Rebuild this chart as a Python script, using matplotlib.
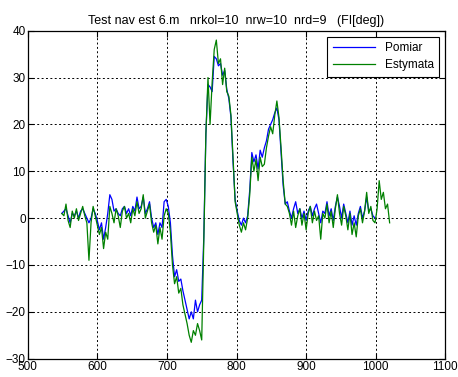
import matplotlib
matplotlib.use("Agg")
import matplotlib.pyplot as plt
import numpy as np

# sample positions (every 3 units)
x_est = np.arange(549, 1021, 3)
x_pom = x_est[x_est <= 999]

pomiar = [
    1.0, 1.5, 2.0, 0.5, -1.0, 1.0, 0.5, 1.5, 0.0, 1.5,
    2.0, 1.0, 0.0, -1.0, 0.0, 2.0, 1.0, -0.5, -2.5, -1.0,
    -4.5, -2.0, 1.0, 5.0, 4.0, 1.5, 2.0, 1.0, 0.5, 2.0,
    2.5, 1.0, 2.0, 0.5, 2.5, 1.5, 4.5, 2.0, 2.5, 4.5,
    1.0, 2.0, 3.5, 0.0, -2.0, -1.0, -3.5, -1.0, -2.0, 3.5,
    4.0, 2.5, -1.0, -8.0, -12.5, -11.0, -13.5, -13.0, -15.5, -17.5,
    -19.5, -21.5, -20.0, -21.5, -17.5, -20.0, -18.5, -17.5, -4.0, 18.0,
    28.5, 28.0, 27.0, 34.5, 34.0, 32.5, 33.0, 30.5, 31.5, 27.5,
    25.5, 21.5, 12.0, 4.0, 1.5, -0.5, -1.5, 0.0, -1.0, 0.5,
    6.0, 14.0, 12.0, 13.5, 10.5, 14.5, 13.0, 15.0, 16.5, 19.0,
    20.0, 21.0, 22.5, 23.5, 21.0, 14.0, 7.0, 3.0, 3.5, 1.5,
    0.0, 2.0, 3.5, 1.0, 2.0, 0.0, 1.5, -0.5, 1.5, 2.5,
    0.5, 2.0, 3.0, 1.0, -1.0, 1.5, 1.0, 3.5, 0.5, 2.0,
    -0.5, 2.5, 4.5, 2.5, 0.0, 3.0, 1.0, -1.0, 1.5, -1.5,
    0.5, -1.5, 1.0, 2.5, 0.0, 1.5, 4.5, 1.5, 2.0, 0.5,
    0.0,
]

estymata = [
    1.0, 0.5, 3.0, -0.5, -2.0, 1.5, 0.0, 2.0, -0.5, 1.0,
    2.5, 0.5, -1.0, -9.0, -1.0, 2.5, 0.5, -1.5, -3.5, -2.0,
    -6.5, -3.0, -4.5, 2.5, 1.0, -1.0, 2.0, 0.5, -2.0, 1.5,
    2.5, 0.0, 1.0, -1.0, 2.0, 0.5, 3.5, 1.0, 2.0, 5.0,
    0.0, 1.5, 3.0, -1.0, -3.0, -1.5, -5.5, -2.0, -4.5, 0.5,
    2.0, 1.0, -3.0, -10.0, -14.0, -12.5, -16.0, -15.0, -18.5, -20.5,
    -22.5, -25.0, -26.5, -24.0, -25.0, -22.5, -24.0, -26.0, -5.0, 18.0,
    30.0, 20.0, 29.0, 36.0, 38.0, 33.0, 34.0, 28.5, 32.0, 27.0,
    26.0, 22.0, 13.0, 3.5, 1.0, -1.5, -3.0, -1.0, -2.5, 0.0,
    5.0, 13.0, 10.0, 12.5, 8.0, 13.0, 11.0, 11.5, 15.0, 17.5,
    19.5, 18.0, 22.0, 25.0, 21.5, 15.0, 8.0, 3.0, 2.5, 1.0,
    -1.5, 1.5, -2.0, 0.5, 2.0, -1.5, 1.0, -2.5, 1.0, 2.5,
    -1.0, 1.5, -0.5, 0.5, -4.5, 1.0, 0.0, 3.0, -1.0, 1.5,
    -2.0, 2.0, 5.0, 1.0, -1.5, 2.5, 0.5, -2.5, 1.0, -3.5,
    -1.0, -4.0, 0.5, 2.0, -1.0, 1.5, 5.5, 1.0, 2.5, -0.5,
    -1.0, 2.0, 8.0, 4.0, 5.5, 2.0, 3.0, -1.0,
]

plt.rcParams['font.family'] = ['Liberation Sans', 'DejaVu Sans']

fig = plt.figure(figsize=(4.58, 3.77), dpi=100)
ax = fig.add_axes([0.0605, 0.0485, 0.9118, 0.8701])

ax.plot(x_pom, pomiar, color='#0000ff', lw=0.9, label='Pomiar')
ax.plot(x_est, estymata, color='#008000', lw=0.9, label='Estymata')

ax.set_xlim(500, 1100)
ax.set_ylim(-30, 40)
ax.set_xticks(np.arange(500, 1101, 100))
ax.set_yticks(np.arange(-30, 41, 10))
ax.grid(True, color='black', linestyle=(0, (2, 2.5)), lw=0.7)
ax.tick_params(direction='in', length=4, top=True, right=True, labelsize=8.5, pad=1.5, width=0.8)
for s in ax.spines.values():
    s.set_linewidth(0.9)

ax.set_title('Test nav est 6.m   nrkol=10  nrw=10  nrd=9   (FI[deg])', fontsize=9, pad=5)

leg = ax.legend(loc='upper right', fontsize=8.5, handlelength=3.6, borderaxespad=0.5,
                fancybox=False, framealpha=1, edgecolor='black', borderpad=0.5, labelspacing=0.4)
leg.get_frame().set_linewidth(0.8)

fig.savefig('out.png', dpi=100)
